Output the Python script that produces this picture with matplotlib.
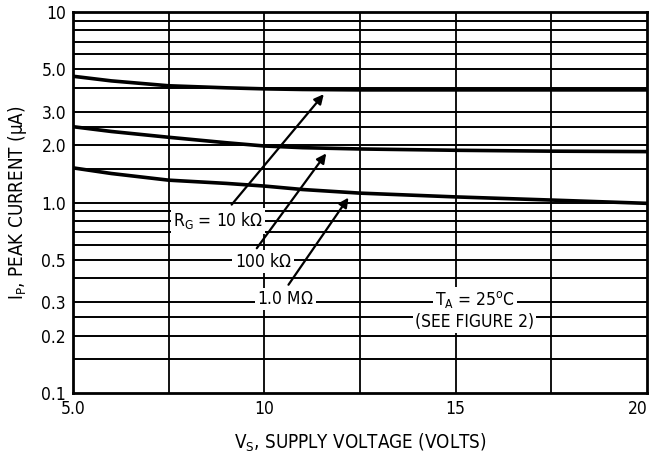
import numpy as np
import matplotlib.pyplot as plt
import matplotlib.transforms as mtransforms
from matplotlib.ticker import FixedLocator, NullLocator

# supply voltage (V)
vs = [5.0, 6.0, 7.5, 9.0, 10.0, 11.0, 12.5, 15.0, 17.5, 20.0]
# peak current (uA) for each gate resistor
ip_10k = [4.6, 4.35, 4.1, 4.0, 3.95, 3.92, 3.9, 3.9, 3.9, 3.9]
ip_100k = [2.5, 2.36, 2.2, 2.06, 1.98, 1.94, 1.91, 1.88, 1.86, 1.85]
ip_1m = [1.52, 1.42, 1.31, 1.26, 1.22, 1.17, 1.12, 1.07, 1.03, 0.99]

x_ticks = [5, 10, 15, 20]
x_ticklabels = ['5.0', '10', '15', '20']
x_grid = [7.5, 10, 12.5, 15, 17.5]
y_ticks = [0.1, 0.2, 0.3, 0.5, 1.0, 2.0, 3.0, 5.0, 10]
y_ticklabels = ['0.1', '0.2', '0.3', '0.5', '1.0', '2.0', '3.0', '5.0', '10']
y_grid = [0.15, 0.2, 0.25, 0.3, 0.4, 0.5, 0.6, 0.7, 0.8, 0.9, 1.0,
          1.5, 2.0, 2.5, 3.0, 4.0, 5.0, 6.0, 7.0, 8.0, 9.0]

# arrows: (label end, curve point)
arrows = [((9.10, 0.95), (11.6, 3.8)),
          ((9.76, 0.56), (11.66, 1.86)),
          ((10.59, 0.36), (12.24, 1.09))]

plt.rcParams['font.family'] = ['DejaVu Sans']
plt.rcParams['font.stretch'] = 'condensed'
plt.rcParams['mathtext.fontset'] = 'custom'
plt.rcParams['mathtext.rm'] = 'DejaVu Sans:stretch=condensed'
plt.rcParams['mathtext.it'] = 'DejaVu Sans:stretch=condensed'

fig = plt.figure(figsize=(6.54, 4.58), dpi=100)
ax = fig.add_axes([0.1116, 0.1419, 0.8777, 0.8319])
ax.set_yscale('log')
ax.set_xlim(5, 20)
ax.set_ylim(0.1, 10)

for g in x_grid:
    ax.axvline(g, color='black', lw=1.3, zorder=1)
for g in y_grid:
    ax.axhline(g, color='black', lw=1.4, zorder=1)

for ys in (ip_10k, ip_100k, ip_1m):
    ax.plot(vs, ys, color='black', lw=2.6, zorder=3)

for (x0, y0), (x1, y1) in arrows:
    ax.annotate('', xy=(x1, y1), xytext=(x0, y0),
                arrowprops=dict(arrowstyle='-|>', color='black', lw=1.6,
                                mutation_scale=14), zorder=4)

box = dict(facecolor='white', edgecolor='none', pad=1.5)
ax.text(8.79, 0.80, r'R$_\mathregular{G}$ = 10 k$\Omega$', ha='center', va='center',
        fontsize=12.5, bbox=box, zorder=5)
ax.text(9.97, 0.49, r'100 k$\Omega$', ha='center', va='center',
        fontsize=12.5, bbox=box, zorder=5)
ax.text(10.56, 0.311, r'1.0 M$\Omega$', ha='center', va='center',
        fontsize=12.5, bbox=box, zorder=5)
ax.text(15.5, 0.309, r'T$_\mathregular{A}$ = 25$^\mathregular{o}$C', ha='center', va='center',
        fontsize=12.5, bbox=box, zorder=5)
ax.text(15.5, 0.236, '(SEE FIGURE 2)', ha='center', va='center',
        fontsize=12.5, bbox=box, zorder=5)

ax.xaxis.set_major_locator(FixedLocator(x_ticks))
ax.set_xticklabels(x_ticklabels)
ax.yaxis.set_major_locator(FixedLocator(y_ticks))
ax.yaxis.set_minor_locator(NullLocator())
ax.set_yticklabels(y_ticklabels)
ax.tick_params(length=0, labelsize=12.5, pad=5)

# keep the last x label inside the figure
last = ax.get_xticklabels()[-1]
last.set_transform(last.get_transform() +
                   mtransforms.ScaledTranslation(-7 / 72, 0, fig.dpi_scale_trans))

for s in ax.spines.values():
    s.set_linewidth(2)

ax.set_xlabel(r'V$_\mathregular{S}$, SUPPLY VOLTAGE (VOLTS)', fontsize=13.5, labelpad=10)
ax.set_ylabel(r'I$_\mathregular{P}$, PEAK CURRENT ($\mu$A)', fontsize=13.5, labelpad=9)

fig.savefig('out.png', dpi=100)
